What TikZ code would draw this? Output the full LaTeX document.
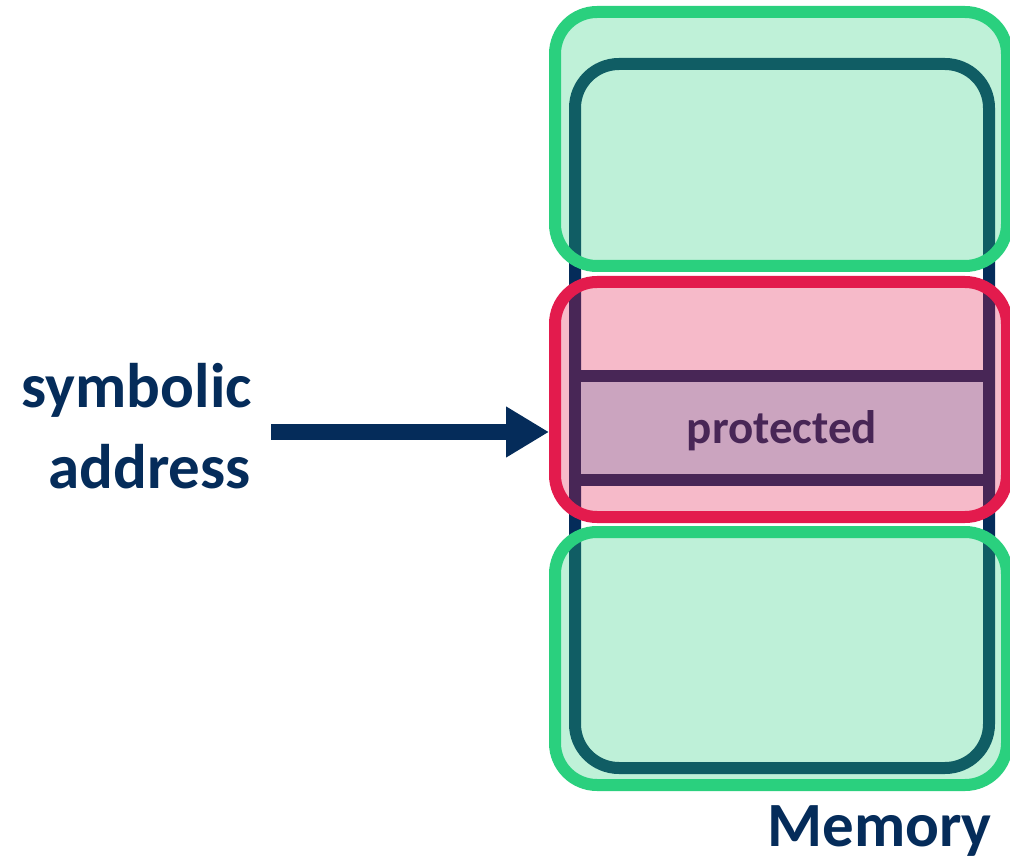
\documentclass[tikz,border=0pt]{standalone}
\usepackage{fontspec}
\setmainfont{Carlito}
\usetikzlibrary{arrows.meta}
\definecolor{navy}{HTML}{052C5A}
\definecolor{memgreen}{HTML}{2AD07E}
\definecolor{memred}{HTML}{E31B4D}
\definecolor{bandblue}{HTML}{C1E0F1}
\begin{document}
\begin{tikzpicture}[x=1pt,y=-1pt,
  column/.style={draw=navy, fill=white, line width=12pt, rounded corners=44pt,
    minimum width=414pt, minimum height=704pt, inner sep=0pt},
  region/.style={line width=12pt, rounded corners=42pt, fill opacity=0.3,
    draw opacity=1, minimum width=452pt, inner sep=0pt},
  greenregion/.style={region, draw=memgreen, fill=memgreen},
  redregion/.style={region, draw=memred, fill=memred},
  bigtext/.style={text=navy, font=\bfseries\fontsize{63}{76}\selectfont, inner sep=0pt},
  smalltext/.style={text=navy, font=\bfseries\fontsize{47}{56}\selectfont, inner sep=0pt},
  divider/.style={draw=navy, line width=12pt},
  pointer/.style={draw=navy, line width=16pt, -{Triangle[length=43pt, width=48pt]}}
]
\useasboundingbox (0,0) rectangle (1010,861);

% memory column with the protected band
\node[column] (mem) at (782,416) {};
\fill[bandblue] (581,376) rectangle (983,480);
\coordinate (bandtopL) at (581,376);
\coordinate (bandtopR) at (983,376);
\coordinate (bandbotL) at (581,480);
\coordinate (bandbotR) at (983,480);
\draw[divider] (bandtopL) -- (bandtopR);
\draw[divider] (bandbotL) -- (bandbotR);
\node[smalltext, anchor=base] (prot) at (782,443) {protected};

% translucent regions laid over the column
\node[greenregion, minimum height=254pt] (upper) at (781,139) {};
\node[redregion, minimum height=235pt] (middle) at (781,399.5) {};
\node[greenregion, minimum height=253pt] (lower) at (781,658.5) {};

% labels
\node[bigtext, anchor=base east] (sym) at (252,407) {symbolic};
\node[bigtext, anchor=base east] (addr) at (251,488) {address};
\node[bigtext, anchor=base east] (memlabel) at (992,846) {Memory};

% pointer into the protected band
\coordinate (src) at (271,432);
\draw[pointer] (src) -- (src -| middle.west);
\end{tikzpicture}
\end{document}
